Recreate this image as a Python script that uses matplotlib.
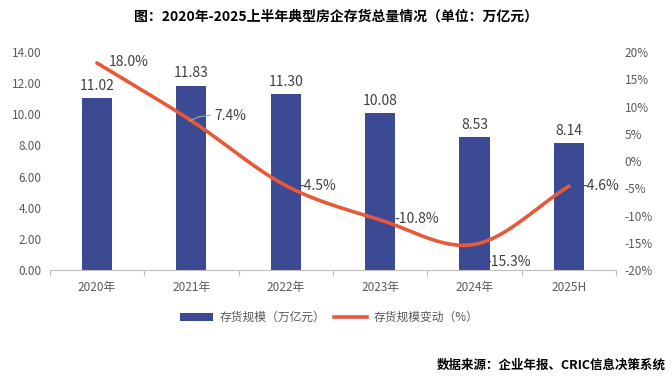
import matplotlib.pyplot as plt
from matplotlib.lines import Line2D
from matplotlib.patches import Patch
import numpy as np

plt.rcParams['font.family'] = ['Noto Sans CJK SC', 'DejaVu Sans']

years = ['2020年', '2021年', '2022年', '2023年', '2024年', '2025H']
inventory = [11.02, 11.83, 11.30, 10.08, 8.53, 8.14]
change = [18.0, 7.4, -4.5, -10.8, -15.3, -4.6]

bar_color = '#3B4A92'
line_color = '#E8593A'
text_color = '#404040'


def smooth(xs, ys, n=30):
    """Catmull-Rom curve through the points, like Excel's smoothed line."""
    xs = np.asarray(xs, float)
    ys = np.asarray(ys, float)
    px = np.concatenate([[2 * xs[0] - xs[1]], xs, [2 * xs[-1] - xs[-2]]])
    py = np.concatenate([[2 * ys[0] - ys[1]], ys, [2 * ys[-1] - ys[-2]]])
    out_x, out_y = [], []
    t = np.linspace(0, 1, n)
    for i in range(1, len(px) - 2):
        for p, out in ((px, out_x), (py, out_y)):
            p0, p1, p2, p3 = p[i - 1], p[i], p[i + 1], p[i + 2]
            seg = 0.5 * ((2 * p1) + (-p0 + p2) * t
                         + (2 * p0 - 5 * p1 + 4 * p2 - p3) * t ** 2
                         + (-p0 + 3 * p1 - 3 * p2 + p3) * t ** 3)
            out.extend(seg)
    return np.array(out_x), np.array(out_y)


fig = plt.figure(figsize=(6.72, 3.8), dpi=100)
ax = fig.add_axes([0.074, 0.2895, 0.843, 0.5735])
ax2 = ax.twinx()

x = np.arange(len(years))
ax.bar(x, inventory, width=0.32, color=bar_color, zorder=2)
for xi, v in zip(x, inventory):
    ax.text(xi, v + 0.35, f'{v:.2f}', ha='center', va='bottom',
            fontsize=10, color=text_color)

ax.set_xlim(-0.5, len(years) - 0.5)
ax.set_ylim(0, 14)
ax.set_yticks(np.arange(0, 14.1, 2))
ax.set_yticklabels([f'{v:.2f}' for v in np.arange(0, 14.1, 2)])
ax.set_xticks(x)
ax.set_xticklabels(years)
ax.set_xticks(np.arange(-0.5, len(years), 1), minor=True)
ax.tick_params(axis='x', which='major', length=0, pad=8, labelsize=8.5, labelcolor='#595959')
ax.tick_params(axis='x', which='minor', length=4, color='#BFBFBF', width=0.8)
ax.tick_params(axis='y', length=0, labelsize=8.5, labelcolor='#595959', pad=6)
for s in ['top', 'right', 'left']:
    ax.spines[s].set_visible(False)
ax.spines['bottom'].set_color('#BFBFBF')

sx, sy = smooth(x, change)
ax2.plot(sx, sy, color=line_color, lw=2.6, solid_capstyle='round', zorder=3)
ax2.set_ylim(-20, 20)
ax2.set_yticks(np.arange(-20, 21, 5))
ax2.set_yticklabels([f'{v}%' for v in range(-20, 21, 5)])
ax2.tick_params(axis='y', length=0, labelsize=8.5, labelcolor='#595959', pad=6)
for s in ['top', 'right', 'left', 'bottom']:
    ax2.spines[s].set_visible(False)

label_offsets = [(0.13, 0.2),
                 (0.24, 0.9),
                 (0.14, 0.0),
                 (0.15, 0.2),
                 (0.13, -3.3),
                 (0.14, 0.0)]
for xi, v, (dx, dy) in zip(x, change, label_offsets):
    ax2.text(xi + dx, v + dy, f'{v:.1f}%', ha='left', va='center',
             fontsize=10, color=text_color, zorder=5)
# leader line for 7.4%
ax2.plot([x[1] - 0.02, x[1] + 0.08, x[1] + 0.2], [change[1], change[1] + 0.7, change[1] + 1.0],
         color='#A6A6A6', lw=0.8, zorder=4)

handles = [Patch(facecolor=bar_color), Line2D([0], [0], color=line_color, lw=2.6)]
fig.legend(handles, ['存货规模（万亿元）', '存货规模变动（%）'], loc='center',
           bbox_to_anchor=(0.49, 0.165), ncol=2, frameon=False, fontsize=8.5,
           labelcolor='#595959', handlelength=2.8, columnspacing=0.8, handletextpad=0.5)

fig.text(0.5, 0.955, '图：2020年-2025上半年典型房企存货总量情况（单位：万亿元）',
         ha='center', va='center', fontsize=10, fontweight='bold', color='black')
fig.text(0.99, 0.04, '数据来源：企业年报、CRIC信息决策系统', ha='right', va='center',
         fontsize=9, fontweight='bold', color='black')

fig.savefig('out.png', dpi=100)
